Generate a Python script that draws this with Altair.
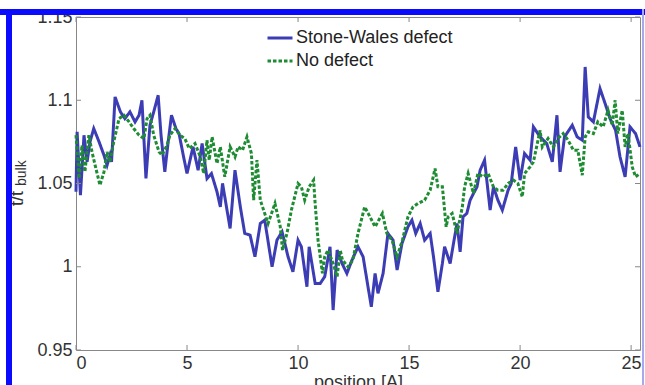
import altair as alt
import pandas as pd

# ---- data ----
x_sw = [0.00, 0.05, 0.20, 0.36, 0.50, 0.63, 0.80, 1.04, 1.26, 1.40, 1.53, 1.60, 1.76, 2.00, 2.20, 2.43,
        2.66, 2.84, 2.97, 3.15, 3.33, 3.50, 3.70, 3.83, 4.00, 4.15, 4.30, 4.50, 4.64, 4.86, 5.00, 5.27,
        5.50, 5.68, 5.90, 6.10, 6.35, 6.50, 6.60, 6.94, 7.16, 7.40, 7.60, 7.84, 8.06, 8.30, 8.50, 8.83,
        9.05, 9.28, 9.55, 9.77, 10.00, 10.15, 10.40, 10.50, 10.77, 11.00, 11.20, 11.44, 11.58, 11.76,
        11.98, 12.20, 12.43, 12.70, 12.93, 13.15, 13.30, 13.47, 13.60, 13.83, 14.05, 14.28, 14.46, 14.68,
        14.95, 15.13, 15.30, 15.50, 15.70, 15.95, 16.10, 16.30, 16.50, 16.60, 16.85, 17.00, 17.16, 17.30,
        17.43, 17.60, 17.75, 17.90, 18.06, 18.20, 18.40, 18.65, 18.80, 19.00, 19.20, 19.46, 19.60, 19.80,
        20.00, 20.20, 20.45, 20.60, 20.90, 21.20, 21.45, 21.66, 21.80, 22.00, 22.35, 22.57, 22.80, 22.93,
        23.07, 23.30, 23.60, 23.83, 24.05, 24.30, 24.50, 24.73, 24.95, 25.20, 25.40]
y_sw = [1.045, 1.081, 1.043, 1.079, 1.063, 1.075, 1.083, 1.075, 1.067, 1.061, 1.067, 1.063, 1.102, 1.093,
        1.089, 1.093, 1.087, 1.091, 1.100, 1.053, 1.085, 1.093, 1.103, 1.079, 1.057, 1.075, 1.091, 1.083,
        1.080, 1.065, 1.056, 1.072, 1.058, 1.074, 1.053, 1.056, 1.045, 1.036, 1.050, 1.023, 1.058, 1.036,
        1.020, 1.019, 1.006, 1.026, 1.028, 1.000, 1.016, 1.021, 1.006, 0.997, 1.016, 1.012, 0.988, 1.012,
        0.990, 0.990, 0.994, 1.012, 0.974, 1.010, 1.002, 0.996, 1.004, 1.012, 1.006, 0.988, 0.976, 0.996,
        0.984, 0.996, 1.020, 1.016, 0.998, 1.014, 1.024, 1.028, 1.020, 1.026, 1.016, 1.020, 1.006, 0.985,
        1.002, 1.012, 1.002, 1.014, 1.026, 1.009, 1.030, 1.032, 1.040, 1.044, 1.048, 1.058, 1.064, 1.034,
        1.048, 1.040, 1.034, 1.046, 1.050, 1.072, 1.052, 1.068, 1.064, 1.084, 1.078, 1.074, 1.063, 1.091,
        1.057, 1.078, 1.085, 1.078, 1.076, 1.120, 1.090, 1.087, 1.107, 1.098, 1.089, 1.082, 1.066, 1.054,
        1.084, 1.080, 1.072]

x_nd = [0.00, 0.14, 0.27, 0.40, 0.58, 0.72, 0.86, 1.08, 1.26, 1.40, 1.53, 1.70, 1.94, 2.16, 2.39, 2.60,
        2.84, 3.06, 3.20, 3.33, 3.50, 3.74, 3.87, 4.10, 4.23, 4.46, 4.68, 4.90, 5.10, 5.36, 5.60, 5.75,
        5.90, 6.00, 6.13, 6.35, 6.50, 6.70, 6.94, 7.16, 7.30, 7.50, 7.70, 7.90, 8.00, 8.15, 8.30, 8.45,
        8.65, 8.96, 9.20, 9.30, 9.50, 9.70, 10.00, 10.15, 10.30, 10.50, 10.70, 10.77, 10.90, 11.10, 11.20,
        11.35, 11.58, 11.76, 11.90, 12.00, 12.25, 12.47, 12.70, 13.00, 13.24, 13.47, 13.80, 14.00, 14.23,
        14.46, 14.70, 14.95, 15.18, 15.40, 15.70, 15.95, 16.17, 16.30, 16.50, 16.67, 16.76, 16.94, 17.16,
        17.40, 17.50, 17.66, 17.90, 18.10, 18.33, 18.56, 18.80, 19.00, 19.23, 19.46, 19.70, 19.90, 20.10,
        20.20, 20.45, 20.60, 20.68, 20.90, 21.00, 21.26, 21.50, 21.70, 21.94, 22.16, 22.40, 22.60, 22.80,
        22.93, 23.07, 23.30, 23.50, 23.74, 23.96, 24.15, 24.28, 24.40, 24.60, 24.73, 24.86, 25.05, 25.20,
        25.40]
y_nd = [1.079, 1.053, 1.073, 1.057, 1.079, 1.069, 1.061, 1.049, 1.057, 1.069, 1.063, 1.075, 1.089, 1.091,
        1.087, 1.083, 1.079, 1.077, 1.089, 1.091, 1.079, 1.069, 1.067, 1.073, 1.079, 1.083, 1.079, 1.077,
        1.071, 1.074, 1.066, 1.056, 1.076, 1.064, 1.078, 1.062, 1.072, 1.054, 1.072, 1.066, 1.072, 1.070,
        1.078, 1.068, 1.040, 1.064, 1.040, 1.034, 1.026, 1.038, 1.024, 1.010, 1.020, 1.034, 1.050, 1.048,
        1.040, 1.048, 1.052, 1.038, 1.016, 0.996, 1.006, 1.010, 1.002, 0.994, 1.010, 1.004, 1.000, 1.004,
        1.020, 1.036, 1.030, 1.024, 1.032, 1.020, 1.016, 1.006, 1.016, 1.030, 1.036, 1.038, 1.040, 1.046,
        1.059, 1.048, 1.048, 1.024, 1.030, 1.032, 1.020, 1.036, 1.048, 1.056, 1.044, 1.056, 1.054, 1.056,
        1.048, 1.046, 1.046, 1.050, 1.052, 1.050, 1.042, 1.056, 1.060, 1.063, 1.068, 1.082, 1.072, 1.077,
        1.072, 1.077, 1.080, 1.076, 1.070, 1.070, 1.055, 1.078, 1.081, 1.080, 1.087, 1.084, 1.094, 1.085,
        1.100, 1.080, 1.094, 1.072, 1.080, 1.060, 1.054, 1.056]

series = ["Stone-Wales defect", "No defect"]
colors = ["#3c3db4", "#1e8c32"]
dashes = [[1, 0], [3.5, 2]]
x_ticks = [0, 5, 10, 15, 20, 25]
y_ticks = [0.95, 1.0, 1.05, 1.1, 1.15]
y_title_parts = ["t/t", "bulk"]

W, H = 564, 333
FONT = "Liberation Sans"

df = pd.concat([
    pd.DataFrame({"x": x_sw, "y": y_sw, "s": series[0], "o": range(len(x_sw))}),
    pd.DataFrame({"x": x_nd, "y": y_nd, "s": series[1], "o": range(len(x_nd))}),
])

xs = alt.Scale(domain=[0, 25.4], nice=False, zero=False)
ys = alt.Scale(domain=[0.95, 1.15], nice=False, zero=False)

legend_kw = dict(title=None, orient="none", legendX=190, legendY=7, symbolType="stroke", symbolSize=625,
                 symbolStrokeWidth=3, labelFontSize=18, labelFont=FONT, labelColor="#222",
                 labelOffset=2, rowPadding=0)

lines = alt.Chart(df).mark_line(strokeWidth=3).encode(
    x=alt.X("x:Q", scale=xs, axis=alt.Axis(values=x_ticks, title="position [A]", ticks=False, domain=False,
                                           grid=False, labelFontSize=18, labelFont=FONT, labelColor="#333",
                                           labelPadding=4, titleFont=FONT, titleFontSize=18,
                                           titleFontWeight="normal", titleColor="#333", titlePadding=1)),
    y=alt.Y("y:Q", scale=ys, axis=alt.Axis(values=y_ticks, format="~g", title=None, ticks=False,
                                           domain=False, grid=False, labelFontSize=18, labelFont=FONT,
                                           labelColor="#333", labelPadding=4)),
    color=alt.Color("s:N", scale=alt.Scale(domain=series, range=colors), legend=alt.Legend(**legend_kw)),
    strokeDash=alt.StrokeDash("s:N", scale=alt.Scale(domain=series, range=dashes),
                              legend=alt.Legend(**legend_kw)),
    order="o:Q",
)

xt = pd.DataFrame({"v": x_ticks})
yt = pd.DataFrame({"v": y_ticks})
tick_col = "#888888"
xb = alt.Chart(xt).mark_rule(color=tick_col).encode(x=alt.X("v:Q", scale=xs), y=alt.value(H), y2=alt.value(H - 5))
xtop = alt.Chart(xt).mark_rule(color=tick_col).encode(x=alt.X("v:Q", scale=xs), y=alt.value(0), y2=alt.value(5))
yl = alt.Chart(yt).mark_rule(color=tick_col).encode(y=alt.Y("v:Q", scale=ys), x=alt.value(0), x2=alt.value(5))
yr = alt.Chart(yt).mark_rule(color=tick_col).encode(y=alt.Y("v:Q", scale=ys), x=alt.value(W), x2=alt.value(W - 5))

ytitle_main = alt.Chart(pd.DataFrame({"t": [y_title_parts[0]]})).mark_text(
    angle=270, align="left", baseline="middle", fontSize=18, font=FONT, color="#333"
).encode(text="t:N", x=alt.value(-58), y=alt.value(189))
ytitle_sub = alt.Chart(pd.DataFrame({"t": [y_title_parts[1]]})).mark_text(
    angle=270, align="left", baseline="middle", fontSize=14, font=FONT, color="#333"
).encode(text="t:N", x=alt.value(-54), y=alt.value(169))

# decorative blue frame around the figure
frame_top = alt.Chart(pd.DataFrame({"a": [0]})).mark_rule(color="#0a0aff", strokeWidth=6).encode(
    x=alt.value(-76), x2=alt.value(569), y=alt.value(-5))
frame_left = alt.Chart(pd.DataFrame({"a": [0]})).mark_rule(color="#0a0aff", strokeWidth=6).encode(
    x=alt.value(-67), y=alt.value(-8), y2=alt.value(368))
frame_right = alt.Chart(pd.DataFrame({"a": [0]})).mark_rule(color="#a8a8f0", strokeWidth=2).encode(
    x=alt.value(567), y=alt.value(-8), y2=alt.value(368))

chart = alt.layer(lines, xb, xtop, yl, yr, ytitle_main, ytitle_sub, frame_top, frame_left, frame_right).properties(
    width=W, height=H,
    autosize=alt.AutoSizeParams(type="none"),
    padding={"left": 76, "top": 17, "right": 5, "bottom": 35},
    background="white",
).configure_view(stroke="#888888", strokeWidth=1)

chart.save("out.html", embed_options={"renderer": "svg", "actions": False})
